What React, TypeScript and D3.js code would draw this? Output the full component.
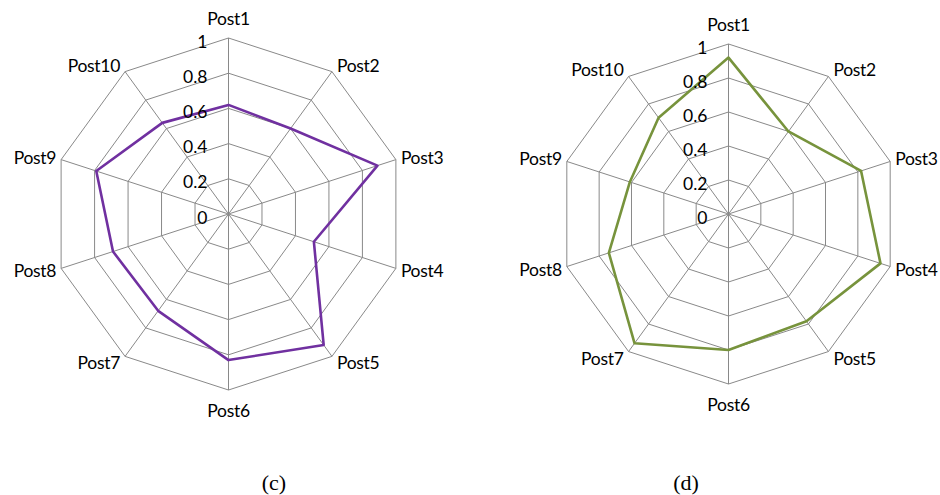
import React from "react";
import * as d3 from "d3";

const categories = ["Post1", "Post2", "Post3", "Post4", "Post5", "Post6", "Post7", "Post8", "Post9", "Post10"];
const valuesC = [0.62, 0.6, 0.89, 0.51, 0.92, 0.83, 0.68, 0.69, 0.79, 0.64];
const valuesD = [0.92, 0.6, 0.82, 0.94, 0.78, 0.8, 0.94, 0.74, 0.61, 0.7];
const ticks = [0, 0.2, 0.4, 0.6, 0.8, 1];
const captions = ["(c)", "(d)"];

const FONT = "Lato, 'Open Sans', sans-serif";
const GRID = "#898989";

type RadarProps = { cx: number; cy: number; R: number; values: number[]; color: string };

function Radar({ cx, cy, R, values, color }: RadarProps) {
  const angle = d3
    .scaleLinear()
    .domain([0, categories.length])
    .range([0, 2 * Math.PI]);
  const r = d3.scaleLinear().domain([0, 1]).range([0, R]);
  const pt = (i: number, v: number): [number, number] => {
    const a = angle(i);
    return [cx + r(v) * Math.sin(a), cy - r(v) * Math.cos(a)];
  };
  const ring = (v: number) =>
    d3.line()(categories.map((_, i) => pt(i, v))) + "Z";
  const dataLine = d3
    .lineRadial<number>()
    .angle((_, i) => angle(i))
    .radius((d) => r(d))
    .curve(d3.curveLinearClosed);

  return (
    <g>
      {ticks.slice(1).map((t) => (
        <path key={t} d={ring(t)} fill="none" stroke={GRID} strokeWidth={1} />
      ))}
      {categories.map((c, i) => {
        const [x, y] = pt(i, 1);
        return <line key={c} x1={cx} y1={cy} x2={x} y2={y} stroke={GRID} strokeWidth={1} />;
      })}
      <path
        d={dataLine(values) || ""}
        transform={`translate(${cx},${cy})`}
        fill="none"
        stroke={color}
        strokeWidth={2.6}
        strokeLinejoin="round"
      />
      {ticks.map((t) => (
        <text
          key={t}
          x={cx - 21}
          y={cy - r(t) + 3}
          textAnchor="end"
          dominantBaseline="central"
          fontFamily={FONT}
          fontSize={17.5}
          fill="#000"
        >
          {String(t)}
        </text>
      ))}
      {categories.map((c, i) => {
        const a = angle(i);
        const s = Math.sin(a);
        const co = Math.cos(a);
        const [x, y] = pt(i, 1);
        let tx = x;
        let ty = y;
        let anchor: "start" | "middle" | "end" = "middle";
        if (Math.abs(s) < 0.01) {
          ty = y - 20 * co;
        } else {
          anchor = s > 0 ? "start" : "end";
          tx = x + (s > 0 ? 5 : -5);
          ty = y - 8 * co;
        }
        return (
          <text
            key={c}
            x={tx}
            y={ty}
            textAnchor={anchor}
            dominantBaseline="central"
            fontFamily={FONT}
            fontSize={17.5}
            letterSpacing={-0.3}
            fill="#000"
          >
            {c}
          </text>
        );
      })}
    </g>
  );
}

export default function App() {
  return (
    <svg
      width={940}
      height={495}
      style={{ position: "absolute", left: 0, top: 0, background: "#fff" }}
    >
      <rect width={940} height={495} fill="#fff" />
      <Radar cx={228.5} cy={214} R={176} values={valuesC} color="#7030A0" />
      <Radar cx={728.5} cy={214} R={170} values={valuesD} color="#77933C" />
      {captions.map((c, i) => (
        <text
          key={c}
          x={i === 0 ? 274 : 686}
          y={482}
          textAnchor="middle"
          dominantBaseline="central"
          fontFamily="'Liberation Serif', 'Times New Roman', serif"
          fontSize={22}
          fill="#000"
        >
          {c}
        </text>
      ))}
    </svg>
  );
}
